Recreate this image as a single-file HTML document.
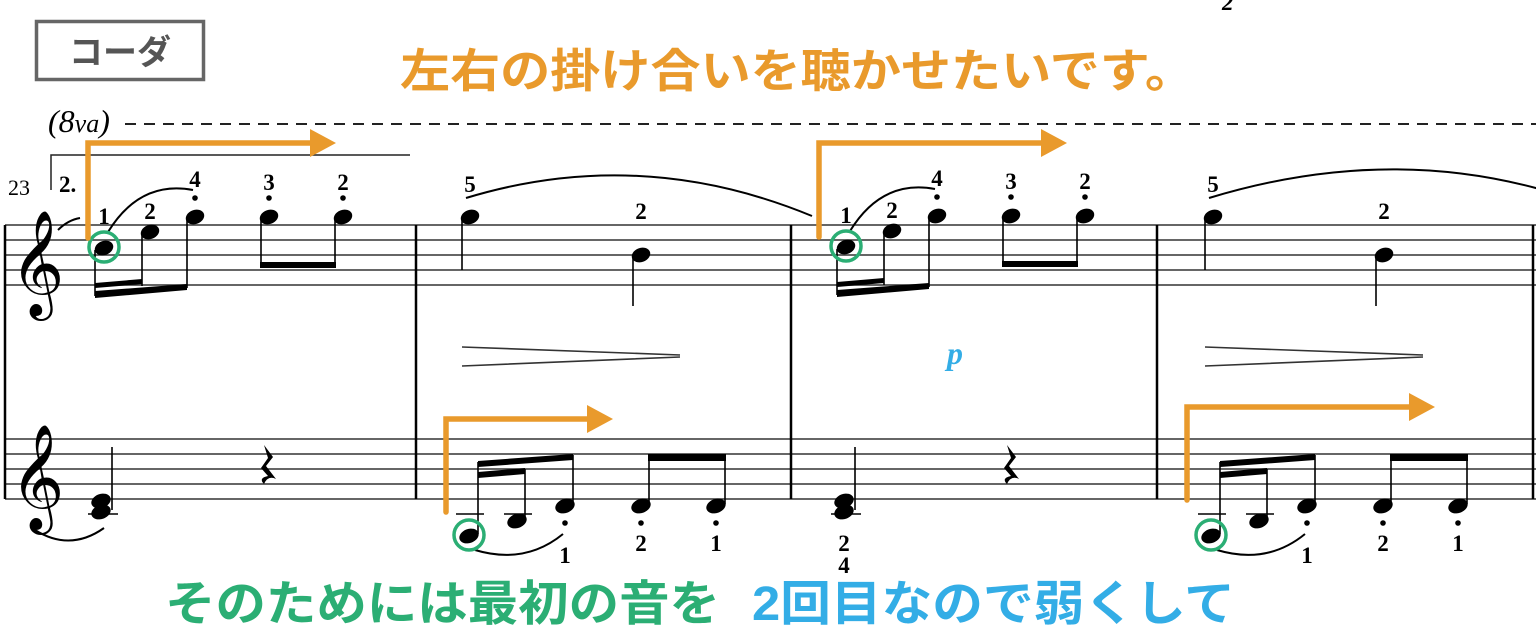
<!DOCTYPE html>
<html><head><meta charset="utf-8"><style>
html,body{margin:0;padding:0;background:#fff;}
svg{display:block}
.jp{font-family:"Liberation Sans","Noto Sans CJK JP",sans-serif;font-weight:bold;}
.fg{font-family:"Liberation Serif",serif;font-weight:bold;font-size:23px;}
</style></head><body>
<svg width="1536" height="636" viewBox="0 0 1536 636" xmlns="http://www.w3.org/2000/svg">
<rect x="36.5" y="21.5" width="167" height="58" fill="none" stroke="#666" stroke-width="3.5"/>
<text x="120" y="64" text-anchor="middle" class="jp" font-size="34" fill="#555">コーダ</text>
<text x="400" y="87" class="jp" font-size="46" fill="#E99A2C" textLength="795" lengthAdjust="spacingAndGlyphs">左右の掛け合いを聴かせたいです。</text>
<text x="1222" y="10" class="fg" font-size="18" font-style="italic">2</text>
<text x="165" y="620" class="jp" font-size="48" fill="#2BAE74" textLength="555" lengthAdjust="spacingAndGlyphs">そのためには最初の音を</text>
<text x="752" y="620" class="jp" font-size="48" fill="#33ADE6" textLength="483" lengthAdjust="spacingAndGlyphs">2回目なので弱くして</text>

<text x="48" y="132" font-family="Liberation Serif,serif" font-style="italic" font-size="32">(8<tspan font-size="26">va</tspan>)</text>
<line x1="125" y1="124" x2="1536" y2="124" stroke="#222" stroke-width="2" stroke-dasharray="11,8"/>
<path d="M51,190 V155 H410" fill="none" stroke="#222" stroke-width="1.5"/>
<text x="59" y="192" class="fg" font-size="28">2.</text>
<text x="8" y="195" font-family="Liberation Serif,serif" font-size="22">23</text>

<g stroke="#333" stroke-width="1.6">
<line x1="5" y1="225" x2="1536" y2="225"/><line x1="5" y1="240" x2="1536" y2="240"/><line x1="5" y1="255" x2="1536" y2="255"/><line x1="5" y1="270" x2="1536" y2="270"/><line x1="5" y1="285" x2="1536" y2="285"/>
<line x1="5" y1="439" x2="1536" y2="439"/><line x1="5" y1="454" x2="1536" y2="454"/><line x1="5" y1="469" x2="1536" y2="469"/><line x1="5" y1="484" x2="1536" y2="484"/><line x1="5" y1="499" x2="1536" y2="499"/>
</g>
<g stroke="#000" stroke-width="2.5">
<line x1="5" y1="225" x2="5" y2="499"/><line x1="416" y1="225" x2="416" y2="499"/><line x1="791" y1="225" x2="791" y2="499"/><line x1="1157" y1="225" x2="1157" y2="499"/><line x1="1533" y1="225" x2="1533" y2="499"/>
</g>
<text x="10" y="294" font-family="DejaVu Sans,serif" font-size="92">𝄞</text>
<text x="10" y="508" font-family="DejaVu Sans,serif" font-size="92">𝄞</text>
<path d="M58,230 Q68,220 80,218" fill="none" stroke="#000" stroke-width="2"/>

<g>
<g fill="#000">
<ellipse cx="104" cy="248" rx="9.5" ry="7" transform="rotate(-20 104 248)"/>
<ellipse cx="150" cy="232" rx="9.5" ry="7" transform="rotate(-20 150 232)"/>
<ellipse cx="195" cy="217" rx="9.5" ry="7" transform="rotate(-20 195 217)"/>
<ellipse cx="269" cy="217" rx="9.5" ry="7" transform="rotate(-20 269 217)"/>
<ellipse cx="343" cy="217" rx="9.5" ry="7" transform="rotate(-20 343 217)"/>
<polygon points="95,291 187,284 187,290 95,298"/>
<polygon points="95,283 142,279 142,284 95,288"/>
<rect x="260" y="262" width="76" height="6"/>
<circle cx="195" cy="198" r="2.8"/><circle cx="269" cy="198" r="2.8"/><circle cx="343" cy="198" r="2.8"/>
</g>
<g stroke="#000" stroke-width="1.6">
<line x1="95" y1="250" x2="95" y2="296"/><line x1="142" y1="234" x2="142" y2="286"/><line x1="187" y1="219" x2="187" y2="288"/>
<line x1="261" y1="219" x2="261" y2="266"/><line x1="335" y1="219" x2="335" y2="266"/>
</g>
<path d="M108,232 Q140,180 193,190" fill="none" stroke="#000" stroke-width="2"/>
<text x="104" y="224" class="fg" text-anchor="middle">1</text>
<text x="150" y="219" class="fg" text-anchor="middle">2</text>
<text x="195" y="187" class="fg" text-anchor="middle">4</text>
<text x="269" y="190" class="fg" text-anchor="middle">3</text>
<text x="343" y="190" class="fg" text-anchor="middle">2</text>
<circle cx="104" cy="247" r="15" fill="none" stroke="#2BAE74" stroke-width="3.5"/>
</g>
<g transform="translate(742,-1)">
<g fill="#000">
<ellipse cx="104" cy="248" rx="9.5" ry="7" transform="rotate(-20 104 248)"/>
<ellipse cx="150" cy="232" rx="9.5" ry="7" transform="rotate(-20 150 232)"/>
<ellipse cx="195" cy="217" rx="9.5" ry="7" transform="rotate(-20 195 217)"/>
<ellipse cx="269" cy="217" rx="9.5" ry="7" transform="rotate(-20 269 217)"/>
<ellipse cx="343" cy="217" rx="9.5" ry="7" transform="rotate(-20 343 217)"/>
<polygon points="95,291 187,284 187,290 95,298"/>
<polygon points="95,283 142,279 142,284 95,288"/>
<rect x="260" y="262" width="76" height="6"/>
<circle cx="195" cy="198" r="2.8"/><circle cx="269" cy="198" r="2.8"/><circle cx="343" cy="198" r="2.8"/>
</g>
<g stroke="#000" stroke-width="1.6">
<line x1="95" y1="250" x2="95" y2="296"/><line x1="142" y1="234" x2="142" y2="286"/><line x1="187" y1="219" x2="187" y2="288"/>
<line x1="261" y1="219" x2="261" y2="266"/><line x1="335" y1="219" x2="335" y2="266"/>
</g>
<path d="M108,232 Q140,180 193,190" fill="none" stroke="#000" stroke-width="2"/>
<text x="104" y="224" class="fg" text-anchor="middle">1</text>
<text x="150" y="219" class="fg" text-anchor="middle">2</text>
<text x="195" y="187" class="fg" text-anchor="middle">4</text>
<text x="269" y="190" class="fg" text-anchor="middle">3</text>
<text x="343" y="190" class="fg" text-anchor="middle">2</text>
<circle cx="104" cy="247" r="15" fill="none" stroke="#2BAE74" stroke-width="3.5"/>
</g>

<g>
<ellipse cx="470" cy="217" rx="9.5" ry="7" transform="rotate(-20 470 217)"/>
<ellipse cx="641" cy="255" rx="9.5" ry="7" transform="rotate(-20 641 255)"/>
<line x1="462" y1="219" x2="462" y2="270" stroke="#000" stroke-width="1.6"/>
<line x1="633" y1="257" x2="633" y2="306" stroke="#000" stroke-width="1.6"/>
<text x="470" y="192" class="fg" text-anchor="middle">5</text>
<text x="641" y="219" class="fg" text-anchor="middle">2</text>
<path d="M466,198 Q640,145 812,216" fill="none" stroke="#000" stroke-width="2"/>
<path d="M680,355 L462,347 M680,357 L462,366" stroke="#333" stroke-width="1.6" fill="none"/>
</g>
<g transform="translate(743,0)">
<ellipse cx="470" cy="217" rx="9.5" ry="7" transform="rotate(-20 470 217)"/>
<ellipse cx="641" cy="255" rx="9.5" ry="7" transform="rotate(-20 641 255)"/>
<line x1="462" y1="219" x2="462" y2="270" stroke="#000" stroke-width="1.6"/>
<line x1="633" y1="257" x2="633" y2="306" stroke="#000" stroke-width="1.6"/>
<text x="470" y="192" class="fg" text-anchor="middle">5</text>
<text x="641" y="219" class="fg" text-anchor="middle">2</text>
<path d="M466,198 Q640,145 800,190" fill="none" stroke="#000" stroke-width="2"/>
<path d="M680,355 L462,347 M680,357 L462,366" stroke="#333" stroke-width="1.6" fill="none"/>
</g>
<text x="955" y="364" font-family="Liberation Serif,serif" font-style="italic" font-weight="bold" font-size="32" fill="#33ADE6" text-anchor="middle">p</text>

<g>
<ellipse cx="101" cy="501" rx="10" ry="7" transform="rotate(-20 101 501)"/>
<ellipse cx="101" cy="512" rx="10" ry="7" transform="rotate(-20 101 512)"/>
<line x1="88" y1="514" x2="118" y2="514" stroke="#000" stroke-width="1.6"/>
<line x1="112" y1="447" x2="112" y2="510" stroke="#000" stroke-width="1.6"/>
<path d="M264,445 L273,457 L266,466 L276,479 Q268,475 264,484 Q258,478 268,476 L261,468 L268,458 Z" fill="#000"/>
<path d="M35,530 Q70,552 104,528" fill="none" stroke="#000" stroke-width="2"/>
</g>
<g transform="translate(743,0)">
<ellipse cx="101" cy="501" rx="10" ry="7" transform="rotate(-20 101 501)"/>
<ellipse cx="101" cy="512" rx="10" ry="7" transform="rotate(-20 101 512)"/>
<line x1="88" y1="514" x2="118" y2="514" stroke="#000" stroke-width="1.6"/>
<line x1="112" y1="447" x2="112" y2="510" stroke="#000" stroke-width="1.6"/>
<path d="M264,445 L273,457 L266,466 L276,479 Q268,475 264,484 Q258,478 268,476 L261,468 L268,458 Z" fill="#000"/>
<text x="101" y="551" class="fg" text-anchor="middle">2</text>
<text x="101" y="573" class="fg" text-anchor="middle">4</text>
</g>

<g>
<g fill="#000">
<ellipse cx="469" cy="536" rx="10" ry="7" transform="rotate(-20 469 536)"/>
<ellipse cx="517" cy="521" rx="10" ry="7" transform="rotate(-20 517 521)"/>
<ellipse cx="565" cy="506" rx="10" ry="7" transform="rotate(-20 565 506)"/>
<ellipse cx="641" cy="506" rx="10" ry="7" transform="rotate(-20 641 506)"/>
<ellipse cx="716" cy="506" rx="10" ry="7" transform="rotate(-20 716 506)"/>
<polygon points="478,461 573,454 573,460 478,467"/>
<polygon points="478,472 525,468 525,474 478,478"/>
<rect x="648" y="454" width="78" height="7"/>
<circle cx="565" cy="523" r="2.8"/><circle cx="641" cy="523" r="2.8"/><circle cx="716" cy="523" r="2.8"/>
</g>
<g stroke="#000" stroke-width="1.6">
<line x1="456" y1="514" x2="484" y2="514"/><line x1="504" y1="514" x2="532" y2="514"/>
<line x1="478" y1="462" x2="478" y2="534"/><line x1="525" y1="469" x2="525" y2="519"/><line x1="573" y1="455" x2="573" y2="504"/>
<line x1="649" y1="455" x2="649" y2="504"/><line x1="725" y1="455" x2="725" y2="504"/>
</g>
<path d="M475,550 Q525,565 563,534" fill="none" stroke="#000" stroke-width="2"/>
<text x="565" y="563" class="fg" text-anchor="middle">1</text>
<text x="641" y="551" class="fg" text-anchor="middle">2</text>
<text x="716" y="551" class="fg" text-anchor="middle">1</text>
<circle cx="469" cy="535" r="15" fill="none" stroke="#2BAE74" stroke-width="3.5"/>
</g>
<g transform="translate(742,0)">
<g fill="#000">
<ellipse cx="469" cy="536" rx="10" ry="7" transform="rotate(-20 469 536)"/>
<ellipse cx="517" cy="521" rx="10" ry="7" transform="rotate(-20 517 521)"/>
<ellipse cx="565" cy="506" rx="10" ry="7" transform="rotate(-20 565 506)"/>
<ellipse cx="641" cy="506" rx="10" ry="7" transform="rotate(-20 641 506)"/>
<ellipse cx="716" cy="506" rx="10" ry="7" transform="rotate(-20 716 506)"/>
<polygon points="478,461 573,454 573,460 478,467"/>
<polygon points="478,472 525,468 525,474 478,478"/>
<rect x="648" y="454" width="78" height="7"/>
<circle cx="565" cy="523" r="2.8"/><circle cx="641" cy="523" r="2.8"/><circle cx="716" cy="523" r="2.8"/>
</g>
<g stroke="#000" stroke-width="1.6">
<line x1="456" y1="514" x2="484" y2="514"/><line x1="504" y1="514" x2="532" y2="514"/>
<line x1="478" y1="462" x2="478" y2="534"/><line x1="525" y1="469" x2="525" y2="519"/><line x1="573" y1="455" x2="573" y2="504"/>
<line x1="649" y1="455" x2="649" y2="504"/><line x1="725" y1="455" x2="725" y2="504"/>
</g>
<path d="M475,550 Q525,565 563,534" fill="none" stroke="#000" stroke-width="2"/>
<text x="565" y="563" class="fg" text-anchor="middle">1</text>
<text x="641" y="551" class="fg" text-anchor="middle">2</text>
<text x="716" y="551" class="fg" text-anchor="middle">1</text>
<circle cx="469" cy="535" r="15" fill="none" stroke="#2BAE74" stroke-width="3.5"/>
</g>

<g fill="none" stroke="#E99A2C" stroke-width="5.5" stroke-linecap="round" stroke-linejoin="miter">
<path d="M88,238 V143 H312"/>
<path d="M819,237 V143 H1044"/>
<path d="M446,512 V419 H589"/>
<path d="M1187,500 V407 H1412"/>
</g>
<g fill="#E99A2C">
<polygon points="310,129 336,143 310,157"/>
<polygon points="1041,129 1067,143 1041,157"/>
<polygon points="587,405 613,419 587,433"/>
<polygon points="1409,393 1435,407 1409,421"/>
</g>
</svg>
</body></html>
